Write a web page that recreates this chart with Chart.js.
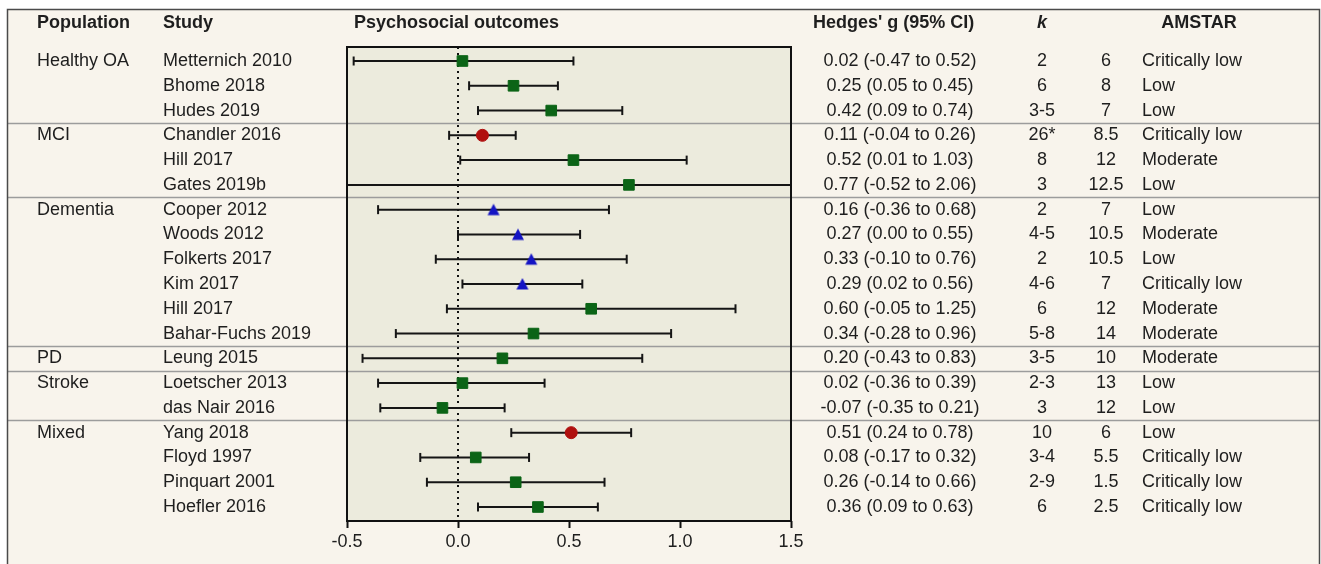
<!DOCTYPE html>
<html>
<head>
<meta charset="utf-8">
<script src="https://cdn.jsdelivr.net/npm/chart.js@4.4.1/dist/chart.umd.min.js"></script>
<style>
  html, body { margin: 0; padding: 0; background: #fff; }
  #wrap { width: 1321px; height: 564px; }
</style>
</head>
<body>
<div id="wrap"><canvas id="forest"></canvas></div>
<script>
const populations = ['Healthy OA', 'Healthy OA', 'Healthy OA', 'MCI', 'MCI', 'MCI',
    'Dementia', 'Dementia', 'Dementia', 'Dementia', 'Dementia', 'Dementia',
    'PD', 'Stroke', 'Stroke', 'Mixed', 'Mixed', 'Mixed', 'Mixed']
const studies = ['Metternich 2010', 'Bhome 2018', 'Hudes 2019', 'Chandler 2016', 'Hill 2017', 'Gates 2019b',
    'Cooper 2012', 'Woods 2012', 'Folkerts 2017', 'Kim 2017', 'Hill 2017', 'Bahar-Fuchs 2019',
    'Leung 2015', 'Loetscher 2013', 'das Nair 2016', 'Yang 2018', 'Floyd 1997', 'Pinquart 2001', 'Hoefler 2016']
const hedgesG = [0.02, 0.25, 0.42, 0.11, 0.52, 0.77, 0.16, 0.27, 0.33, 0.29, 0.60, 0.34, 0.20, 0.02, -0.07, 0.51, 0.08, 0.26, 0.36]
const ciLow = [-0.47, 0.05, 0.09, -0.04, 0.01, -0.52, -0.36, 0.00, -0.10, 0.02, -0.05, -0.28, -0.43, -0.36, -0.35, 0.24, -0.17, -0.14, 0.09]
const ciHigh = [0.52, 0.45, 0.74, 0.26, 1.03, 2.06, 0.68, 0.55, 0.76, 0.56, 1.25, 0.96, 0.83, 0.39, 0.21, 0.78, 0.32, 0.66, 0.63]
const kStudies = ['2', '6', '3-5', '26*', '8', '3', '2', '4-5', '2', '4-6', '6', '5-8', '3-5', '2-3', '3', '10', '3-4', '2-9', '6']
const amstarScore = ['6', '8', '7', '8.5', '12', '12.5', '7', '10.5', '10.5', '7', '12', '14', '10', '13', '12', '6', '5.5', '1.5', '2.5']
const amstarRating = ['Critically low', 'Low', 'Low', 'Critically low', 'Moderate', 'Low', 'Low', 'Moderate', 'Low',
    'Critically low', 'Moderate', 'Moderate', 'Moderate', 'Low', 'Low', 'Low', 'Critically low', 'Critically low', 'Critically low']
const markerType = ['square', 'square', 'square', 'circle', 'square', 'square', 'triangle', 'triangle', 'triangle',
    'triangle', 'square', 'square', 'square', 'square', 'square', 'circle', 'square', 'square', 'square']
const xTicks = [-0.5, 0.0, 0.5, 1.0, 1.5]

const fontFamily = '"Liberation Sans", Arial, sans-serif'
const textColor = '#1e1e1e'

// triangle centred on the row line, like the original
function triangleIcon(color) {
    const c = document.createElement('canvas')
    c.width = 14
    c.height = 14
    const g = c.getContext('2d')
    g.fillStyle = color
    g.beginPath()
    g.moveTo(7, 1)
    g.lineTo(13, 12.5)
    g.lineTo(1, 12.5)
    g.closePath()
    g.fill()
    return c
}

const markerStyle = {
    square: { style: 'rect', color: '#0b6416', radius: 7.5 },
    circle: { style: 'circle', color: '#b0100f', radius: 6 },
    triangle: { style: triangleIcon('#1414c4'), color: '#1414c4', radius: 7 }
}

const fmt = v => v.toFixed(2)

const backdrop = {
    id: 'backdrop',
    beforeDraw(chart) {
        const { ctx, chartArea: a, width, height } = chart
        const y = chart.scales.y
        ctx.save()
        ctx.fillStyle = '#ffffff'
        ctx.fillRect(0, 0, width, height)
        ctx.fillStyle = '#f8f4ec'
        ctx.fillRect(7, 9, 1313, height - 9)
        ctx.fillStyle = '#ecebdd'
        ctx.fillRect(a.left, a.top, a.right - a.left, a.bottom - a.top)

        // group separators
        ctx.strokeStyle = '#9c9c9c'
        ctx.lineWidth = 1.5
        for (let i = 0; i < populations.length - 1; i++) {
            if (populations[i] !== populations[i + 1]) {
                const py = Math.round(y.getPixelForValue(i + 0.5)) + 0.5
                ctx.beginPath()
                ctx.moveTo(7, py)
                ctx.lineTo(1320, py)
                ctx.stroke()
            }
        }

        // frame
        ctx.strokeStyle = '#4a4a4a'
        ctx.lineWidth = 1.5
        ctx.beginPath()
        ctx.moveTo(7.5, height)
        ctx.lineTo(7.5, 9.5)
        ctx.lineTo(1319.5, 9.5)
        ctx.lineTo(1319.5, height)
        ctx.stroke()
        ctx.restore()
    },
    beforeDatasetsDraw(chart) {
        const { ctx, chartArea: a } = chart
        const x = chart.scales.x
        const y = chart.scales.y
        ctx.save()

        // zero line
        const x0 = x.getPixelForValue(0)
        ctx.strokeStyle = '#111'
        ctx.lineWidth = 2
        ctx.setLineDash([2, 4])
        ctx.beginPath()
        ctx.moveTo(x0, a.top)
        ctx.lineTo(x0, a.bottom)
        ctx.stroke()
        ctx.setLineDash([])

        // confidence intervals
        ctx.strokeStyle = '#151515'
        ctx.lineWidth = 2
        for (let i = 0; i < studies.length; i++) {
            const py = y.getPixelForValue(i)
            const x1 = x.getPixelForValue(ciLow[i])
            const x2 = x.getPixelForValue(ciHigh[i])
            ctx.beginPath()
            ctx.moveTo(Math.max(x1, a.left), py)
            ctx.lineTo(Math.min(x2, a.right), py)
            ctx.stroke()
            for (const cx of [x1, x2]) {
                if (cx >= a.left && cx <= a.right) {
                    ctx.beginPath()
                    ctx.moveTo(cx, py - 4.5)
                    ctx.lineTo(cx, py + 4.5)
                    ctx.stroke()
                }
            }
        }

        // plot border
        ctx.strokeStyle = '#111'
        ctx.lineWidth = 2
        ctx.strokeRect(a.left, a.top, a.right - a.left, a.bottom - a.top)
        ctx.restore()
    },
    afterDraw(chart) {
        const { ctx } = chart
        const y = chart.scales.y
        ctx.save()
        ctx.fillStyle = textColor
        ctx.textBaseline = 'middle'

        const headY = 23
        ctx.font = `bold 18px ${fontFamily}`
        ctx.textAlign = 'left'
        ctx.fillText('Population', 37, headY)
        ctx.fillText('Study', 163, headY)
        ctx.fillText('Psychosocial outcomes', 354, headY)
        ctx.fillText("Hedges' g (95% CI)", 813, headY)
        ctx.textAlign = 'center'
        ctx.fillText('AMSTAR', 1199, headY)
        ctx.font = `italic bold 18px ${fontFamily}`
        ctx.fillText('k', 1042, headY)

        ctx.font = `18px ${fontFamily}`
        for (let i = 0; i < studies.length; i++) {
            const py = y.getPixelForValue(i)
            ctx.textAlign = 'left'
            if (i === 0 || populations[i] !== populations[i - 1]) {
                ctx.fillText(populations[i], 37, py)
            }
            ctx.fillText(studies[i], 163, py)
            ctx.fillText(amstarRating[i], 1142, py)
            ctx.textAlign = 'center'
            ctx.fillText(`${fmt(hedgesG[i])} (${fmt(ciLow[i])} to ${fmt(ciHigh[i])})`, 900, py)
            ctx.fillText(kStudies[i], 1042, py)
            ctx.fillText(amstarScore[i], 1106, py)
        }
        ctx.restore()
    }
}

new Chart(document.getElementById('forest'), {
    type: 'scatter',
    data: {
        datasets: [{
            data: hedgesG.map((g, i) => ({ x: g, y: i })),
            pointStyle: markerType.map(m => markerStyle[m].style),
            pointRadius: markerType.map(m => markerStyle[m].radius),
            backgroundColor: markerType.map(m => markerStyle[m].color),
            borderColor: markerType.map(m => markerStyle[m].color),
            borderWidth: 1
        }]
    },
    options: {
        responsive: true,
        maintainAspectRatio: false,
        animation: false,
        events: [],
        layout: { padding: { left: 347, right: 530, top: 47, bottom: 13 } },
        plugins: { legend: { display: false }, tooltip: { enabled: false } },
        scales: {
            x: {
                type: 'linear',
                min: -0.5,
                max: 1.5,
                afterBuildTicks: s => { s.ticks = xTicks.map(v => ({ value: v })) },
                afterFit: s => { s.height = 30 },
                border: { display: false },
                grid: { drawOnChartArea: false, drawTicks: true, tickLength: 7, tickColor: '#111', tickWidth: 2 },
                ticks: {
                    callback: v => v.toFixed(1),
                    color: textColor,
                    padding: 3,
                    maxRotation: 0,
                    font: { family: fontFamily, size: 18 }
                }
            },
            y: {
                type: 'linear',
                display: false,
                reverse: true,
                min: -0.565,
                max: 18.565
            }
        }
    },
    plugins: [backdrop]
})
</script>
</body>
</html>
